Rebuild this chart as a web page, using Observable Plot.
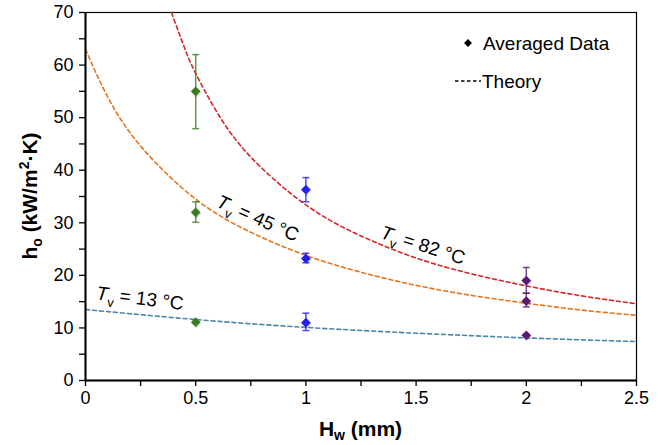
<!DOCTYPE html>
<html><head><meta charset="utf-8">
<script src="https://cdn.jsdelivr.net/npm/d3@7"></script>
<script src="https://cdn.jsdelivr.net/npm/@observablehq/plot@0.6"></script>
<style>html,body{margin:0;padding:0;background:#fff} svg{display:block}</style>
</head><body><div id="chart"></div>
<script>
// Averaged data points (H_w in mm, h_o in kW/m²·K) with error-bar bounds
const hw      = [0.5, 0.5, 0.5, 1, 1, 1, 2, 2, 2];
const ho      = [55, 32, 11.1, 36.3, 23.2, 11, 19, 15.1, 8.6];
const errLow  = [47.9, 30.1, null, 34.0, 22.4, 9.5, 16.6, 14.0, null];
const errHigh = [62.0, 34.0, null, 38.6, 24.2, 12.8, 21.5, 16.6, null];

// Theory curves
const t82x = [0.39, 0.45, 0.5, 0.6, 0.75, 1, 1.25, 1.5, 1.75, 2, 2.25, 2.5];
const t82y = [70, 63.2, 58.4, 50.8, 42.5, 33.4, 27.5, 23.3, 20.3, 18.0, 16.1, 14.6];
const t45x = [0, 0.1, 0.25, 0.5, 0.75, 1, 1.25, 1.5, 1.75, 2, 2.25, 2.5];
const t45y = [63, 54, 44.6, 34.5, 28.2, 23.8, 20.6, 18.1, 16.2, 14.7, 13.4, 12.4];
const t13x = [0, 0.5, 1, 1.5, 2, 2.5];
const t13y = [13.5, 11.6, 10.1, 9.0, 8.1, 7.4];

// Curve labels
const curveTemps = ["82", "45", "13"];

// Ticks
const xTicks = [0, 0.5, 1, 1.5, 2, 2.5];
const xMinor = [0.25, 0.75, 1.25, 1.75, 2.25];
const yTicks = [0, 10, 20, 30, 40, 50, 60, 70];
const yMinor = [5, 15, 25, 35, 45, 55, 65];

const pointColors = ["#3b7d1e", "#2020f0", "#571b6f"];
const rows = hw.map((x, i) => ({hw: x, ho: ho[i], lo: errLow[i], hi: errHigh[i]}));
const errRows = rows.filter(d => d.lo != null);
const curve = (xs, ys) => xs.map((x, i) => ({x, y: ys[i]}));

const hline = {draw(ctx, size) { const w = Math.sqrt(size / Math.PI); ctx.moveTo(-w, 0); ctx.lineTo(w, 0); }};

const dash = "4,3";
const tickFont = 18;
const chart = Plot.plot({
  width: 660, height: 445,
  marginLeft: 85, marginRight: 24, marginTop: 12, marginBottom: 65,
  style: {fontFamily: "'Liberation Sans', Arial, sans-serif", fontSize: "18px", color: "#000", background: "#fff"},
  x: {domain: [0, 2.5]},
  y: {domain: [0, 70]},
  color: {type: "ordinal", domain: [0.5, 1, 2], range: pointColors},
  marks: [
    Plot.frame({stroke: "#000", strokeWidth: 1.2}),
    Plot.axisX({ticks: xMinor, tickSize: 6, tickFormat: () => "", label: null, strokeWidth: 1.3}),
    Plot.axisX({ticks: xTicks, tickSize: 6, tickPadding: 5, tickFormat: d => String(d), label: null, strokeWidth: 1.3, fontSize: tickFont}),
    Plot.axisY({ticks: yMinor, tickSize: 6, tickFormat: () => "", label: null, strokeWidth: 1.3}),
    Plot.axisY({ticks: yTicks, tickSize: 6, tickPadding: 6, tickFormat: d => String(d), label: null, strokeWidth: 1.3, fontSize: tickFont}),
    Plot.line(curve(t13x, t13y), {x: "x", y: "y", stroke: "#4f86a6", strokeWidth: 1.6, strokeDasharray: dash, curve: "natural"}),
    Plot.line(curve(t45x, t45y), {x: "x", y: "y", stroke: "#e3761f", strokeWidth: 1.6, strokeDasharray: dash, curve: "natural"}),
    Plot.line(curve(t82x, t82y), {x: "x", y: "y", stroke: "#d6262a", strokeWidth: 1.6, strokeDasharray: dash, curve: "natural"}),
    Plot.ruleX(errRows, {x: "hw", y1: "lo", y2: "hi", stroke: "hw", strokeWidth: 1.5, strokeOpacity: 0.8}),
    Plot.dot(errRows, {x: "hw", y: "lo", symbol: hline, r: 3.5, stroke: "hw", strokeWidth: 1.5, strokeOpacity: 0.8}),
    Plot.dot(errRows, {x: "hw", y: "hi", symbol: hline, r: 3.5, stroke: "hw", strokeWidth: 1.5, strokeOpacity: 0.8}),
    Plot.dot(rows, {x: "hw", y: "ho", symbol: "diamond2", r: 4.4, fill: "#000", fillOpacity: 0.12, dx: 1, dy: 1.5}),
    Plot.dot(rows, {x: "hw", y: "ho", symbol: "diamond2", r: 4.4, fill: "hw", stroke: null}),
    Plot.ruleX([0], {stroke: "#000", strokeWidth: 2}),
    Plot.ruleY([0], {stroke: "#000", strokeWidth: 2})
  ]
});
document.getElementById("chart").appendChild(chart);

const svg = d3.select(chart);
const sx = chart.scale("x"), sy = chart.scale("y");
const font = "'Liberation Sans', Arial, sans-serif";

// Axis titles
const yl = svg.append("text")
  .attr("transform", `translate(37,${(sy.apply(0) + sy.apply(70)) / 2}) rotate(-90)`)
  .attr("text-anchor", "middle").attr("font-family", font).attr("font-size", 21).attr("font-weight", "bold").attr("fill", "#000");
yl.append("tspan").text("h");
yl.append("tspan").attr("font-size", 14).attr("dy", 5).text("o");
yl.append("tspan").attr("dy", -5).text(" (kW/m");
yl.append("tspan").attr("font-size", 14).attr("dy", -8).text("2");
yl.append("tspan").attr("dy", 8).text("·K)");

const xl = svg.append("text")
  .attr("x", (sx.apply(0) + sx.apply(2.5)) / 2).attr("y", 436)
  .attr("text-anchor", "middle").attr("font-family", font).attr("font-size", 21).attr("font-weight", "bold").attr("fill", "#000");
xl.append("tspan").text("H");
xl.append("tspan").attr("font-size", 14).attr("dy", 4).text("w");
xl.append("tspan").attr("dy", -4).text(" (mm)");

// Curve labels (positions in data units, rotation in degrees)
const labelPos = [
  {x: 1.534, y: 25.7, a: 18},
  {x: 0.785, y: 30.8, a: 24},
  {x: 0.25, y: 15.6, a: 7}
];
curveTemps.forEach((t, i) => {
  const p = labelPos[i];
  const tx = svg.append("text")
    .attr("transform", `translate(${sx.apply(p.x)},${sy.apply(p.y)}) rotate(${p.a})`)
    .attr("text-anchor", "middle").attr("dy", "0.35em")
    .attr("font-family", font).attr("font-size", 19).attr("fill", "#000");
  tx.append("tspan").attr("font-style", "italic").text("T");
  tx.append("tspan").attr("font-size", 13).attr("dy", 6).text("v");
  tx.append("tspan").attr("dy", -6).text(` = ${t} °C`);
});

// Legend
const lg = svg.append("g").attr("font-family", font).attr("font-size", 19).attr("fill", "#000").attr("text-anchor", "start");
lg.append("path").attr("d", d3.symbol(d3.symbolDiamond2, 40)()).attr("transform", "translate(468,43)").attr("fill", "#000");
lg.append("text").attr("x", 483).attr("y", 50).attr("text-anchor", "start").text("Averaged Data");
lg.append("line").attr("x1", 455).attr("x2", 481).attr("y1", 81).attr("y2", 81).attr("stroke", "#000").attr("stroke-width", 1.3).attr("stroke-dasharray", "3.5,2.5");
lg.append("text").attr("x", 482).attr("y", 88).attr("text-anchor", "start").text("Theory");
</script>
</body></html>
